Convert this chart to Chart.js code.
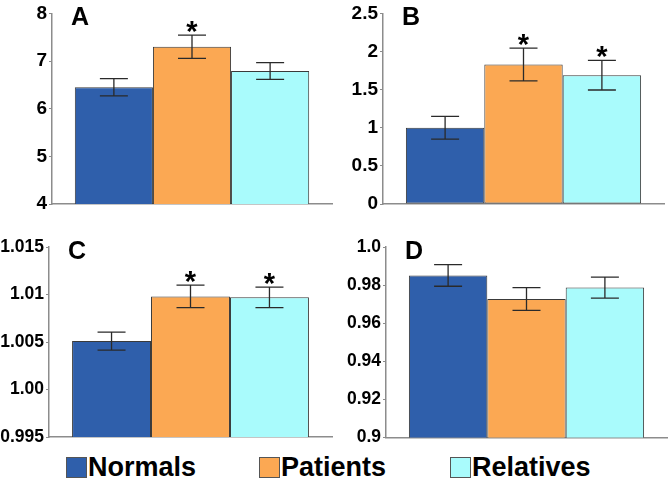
<!DOCTYPE html>
<html><head><meta charset="utf-8">
<script src="https://cdn.jsdelivr.net/npm/chart.js@4"></script>
<style>
html,body{margin:0;padding:0;background:#fff;}
body{width:672px;height:483px;position:relative;overflow:hidden;font-family:"Liberation Sans",Arial,sans-serif;}
canvas{position:absolute;}
.leg{position:absolute;top:455px;height:24px;display:flex;align-items:center;font-weight:bold;font-size:27px;color:#000;line-height:24px;}
.sw{width:19px;height:19px;border:1px solid #555;margin-right:1px;flex:none;}
</style></head><body>
<canvas id="cA" width="336" height="220" style="left:0;top:0"></canvas>
<canvas id="cB" width="336" height="220" style="left:336px;top:0"></canvas>
<canvas id="cC" width="336" height="230" style="left:0;top:220px"></canvas>
<canvas id="cD" width="336" height="230" style="left:336px;top:220px"></canvas>
<div id="legend"></div>
<script>
// ---- data ----
const groups = ['Normals', 'Patients', 'Relatives'];

const valuesA = [6.45, 7.30, 6.79];
const errorsA = [0.18, 0.245, 0.175];
const starsA  = [false, true, false];
const ticksA  = [4, 5, 6, 7, 8];
const tickLabelsA = ['4', '5', '6', '7', '8'];

const valuesB = [1.00, 1.83, 1.69];
const errorsB = [0.15, 0.215, 0.195];
const starsB  = [false, true, true];
const ticksB  = [0, 0.5, 1, 1.5, 2, 2.5];
const tickLabelsB = ['0', '0.5', '1', '1.5', '2', '2.5'];

const valuesC = [1.0051, 1.0098, 1.0097];
const errorsC = [0.00095, 0.00118, 0.00108];
const starsC  = [false, true, true];
const ticksC  = [0.995, 1.000, 1.005, 1.010, 1.015];
const tickLabelsC = ['0.995', '1.00', '1.005', '1.01', '1.015'];

const valuesD = [0.9851, 0.9727, 0.9787];
const errorsD = [0.0057, 0.0060, 0.0055];
const starsD  = [false, false, false];
const ticksD  = [0.90, 0.92, 0.94, 0.96, 0.98, 1.00];
const tickLabelsD = ['0.9', '0.92', '0.94', '0.96', '0.98', '1.0'];

// ---- styles ----
const barColors = ['#2F5FAB', '#FBA853', '#A9FBFC'];
const FONT = '"Liberation Sans", Arial, sans-serif';
const AXIS = '#8c8c8c';

const errorPlugin = {
  id: 'errs',
  afterDatasetsDraw(chart) {
    const o = chart.options.plugins.errs;
    const ctx = chart.ctx, y = chart.scales.y, ca = chart.chartArea;
    ctx.save();
    chart.data.datasets.forEach((ds, i) => {
      const bar = chart.getDatasetMeta(i).data[0];
      const v = ds.data[0], e = o.errors[i];
      const yt = y.getPixelForValue(v + e), yb = y.getPixelForValue(v - e);
      ctx.strokeStyle = '#2a2a2a';
      ctx.lineWidth = 1.3;
      ctx.beginPath();
      ctx.moveTo(bar.x, yt); ctx.lineTo(bar.x, yb);
      ctx.moveTo(bar.x - 14, yt); ctx.lineTo(bar.x + 14, yt);
      ctx.moveTo(bar.x - 14, yb); ctx.lineTo(bar.x + 14, yb);
      ctx.stroke();
      if (o.stars[i]) {
        const fs = 29;
        ctx.fillStyle = '#000';
        ctx.font = 'bold ' + fs + 'px ' + FONT;
        ctx.textAlign = 'center';
        ctx.textBaseline = 'alphabetic';
        ctx.fillText('*', bar.x, yt - 6 + 0.42 * fs);
      }
    });
    ctx.fillStyle = '#000';
    ctx.font = 'bold 25px ' + FONT;
    ctx.textAlign = 'left';
    ctx.textBaseline = 'alphabetic';
    ctx.fillText(o.letter, ca.left + 19, ca.top + 12);
    ctx.restore();
  }
};

function makeChart(id, values, errors, stars, tickVals, tickLabels, letter, pad, yWidth, fontSize) {
  return new Chart(document.getElementById(id), {
    type: 'bar',
    data: {
      labels: [''],
      datasets: groups.map((g, i) => ({
        label: g,
        data: [values[i]],
        backgroundColor: barColors[i],
        borderColor: '#3a3a3a',
        borderWidth: 1,
        borderSkipped: false
      }))
    },
    options: {
      responsive: false,
      animation: false,
      events: [],
      layout: { padding: pad },
      categoryPercentage: 0.837,
      barPercentage: 1.0,
      plugins: {
        legend: { display: false },
        tooltip: { enabled: false },
        errs: { errors, stars, letter }
      },
      scales: {
        x: {
          type: 'category',
          grid: { display: false },
          border: { display: true, color: AXIS, width: 1.5 },
          ticks: { display: false },
          afterFit(s) { s.height = 0; }
        },
        y: {
          type: 'linear',
          min: tickVals[0],
          max: tickVals[tickVals.length - 1],
          afterBuildTicks(s) { s.ticks = tickVals.map(v => ({ value: v })); },
          afterFit(s) { s.width = yWidth; },
          grid: { drawOnChartArea: false, drawTicks: true, tickLength: 3, color: AXIS, lineWidth: 1 },
          border: { display: true, color: AXIS, width: 1.5 },
          ticks: {
            color: '#000',
            padding: 2,
            font: { family: FONT, size: fontSize, weight: 'bold' },
            callback: (v, idx) => tickLabels[idx]
          }
        }
      }
    },
    plugins: [errorPlugin]
  });
}

makeChart('cA', valuesA, errorsA, starsA, ticksA, tickLabelsA, 'A', { left: 0, top: 12, right: 4, bottom: 16 }, 52, 19);
makeChart('cB', valuesB, errorsB, starsB, ticksB, tickLabelsB, 'B', { left: 0, top: 12, right: 8, bottom: 16 }, 47, 19);
makeChart('cC', valuesC, errorsC, starsC, ticksC, tickLabelsC, 'C', { left: 0, top: 27, right: 4, bottom: 13 }, 49, 17.5);
makeChart('cD', valuesD, errorsD, starsD, ticksD, tickLabelsD, 'D', { left: 0, top: 27, right: 5, bottom: 11 }, 50, 17.5);

// ---- legend ----
const legendX = [66, 259, 450];
const leg = document.getElementById('legend');
groups.forEach((g, i) => {
  const d = document.createElement('div');
  d.className = 'leg';
  d.style.left = legendX[i] + 'px';
  const sw = document.createElement('span');
  sw.className = 'sw';
  sw.style.background = barColors[i];
  const t = document.createElement('span');
  t.textContent = g;
  d.appendChild(sw); d.appendChild(t);
  leg.appendChild(d);
});
</script>
</body></html>
